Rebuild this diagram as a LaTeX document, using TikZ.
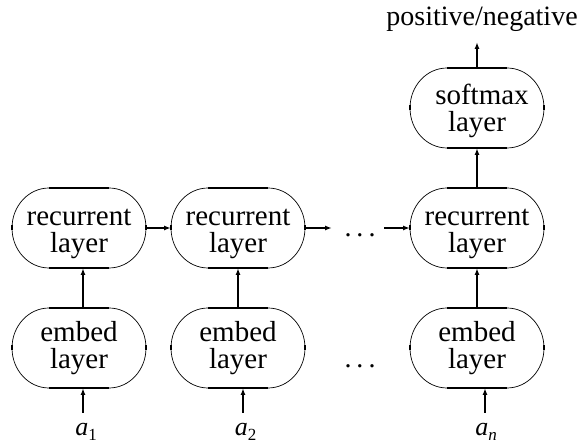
\documentclass[tikz,border=0pt]{standalone}
\usepackage{fontspec}
\setmainfont{Liberation Serif}
\usetikzlibrary{arrows.meta}
\tikzset{
  layerbox/.style={minimum width=134pt, minimum height=80pt, inner sep=0pt, outer sep=0pt,
    align=center, font=\fontsize{29}{27}\selectfont},
  flatedge/.style={line width=1.6pt},
  sideedge/.style={line width=0.7pt},
  conn/.style={line width=1.7pt, -{Latex[length=7pt,width=5pt]}},
  lbl/.style={anchor=base, inner sep=0pt, font=\fontsize{28}{28}\selectfont},
  dotlbl/.style={anchor=base, inner sep=0pt, font=\fontsize{28}{28}\selectfont},
}
\newcommand{\boxoutline}[1]{%
  \draw[sideedge] ([xshift=-30pt]#1.north) arc[start angle=90,end angle=270,x radius=37pt,y radius=40pt];
  \draw[sideedge] ([xshift=30pt]#1.south) arc[start angle=-90,end angle=90,x radius=37pt,y radius=40pt];
  \draw[flatedge] ([xshift=-30pt]#1.north) -- ([xshift=30pt]#1.north);
  \draw[flatedge] ([xshift=-30pt]#1.south) -- ([xshift=30pt]#1.south);
  \draw[flatedge] ([yshift=-2.5pt]#1.west) -- ([yshift=2.5pt]#1.west);
  \draw[flatedge] ([yshift=-2.5pt]#1.east) -- ([yshift=2.5pt]#1.east);
}
\newcommand{\twolines}[3]{\rule{0pt}{#1pt}#2\\#3\rule[-7pt]{0pt}{7pt}}
\newcommand{\invar}[1]{{\fontsize{26}{26}\selectfont\textit{a}}\raisebox{-5pt}{\fontsize{17}{17}\selectfont #1}}
\begin{document}
\begin{tikzpicture}[x=1pt,y=1pt]
\useasboundingbox (0,0) rectangle (586,446);
% boxes
\node[layerbox] (e1) at (79,98) {\twolines{22}{embed}{layer}};
\node[layerbox] (e2) at (238,98) {\twolines{22}{embed}{layer}};
\node[layerbox] (e3) at (477,98) {\twolines{22}{embed}{layer}};
\node[layerbox] (r1) at (79,218) {\twolines{30}{recurrent}{layer}};
\node[layerbox] (r2) at (238,218) {\twolines{30}{recurrent}{layer}};
\node[layerbox] (r3) at (477,218) {\twolines{30}{recurrent}{layer}};
\node[layerbox] (s3) at (477,338) {\twolines{27}{\hspace*{10pt}softmax}{layer}};
\boxoutline{e1}\boxoutline{e2}\boxoutline{e3}
\boxoutline{r1}\boxoutline{r2}\boxoutline{r3}
\boxoutline{s3}
% labels
\node[lbl] (out) at (482,420) {positive/negative};
\node[lbl] (a1) at (86,10) {\invar{1}};
\node[lbl] (a2) at (245.5,10) {\invar{2}};
\node[lbl] (an) at (486,10) {\invar{\textit{n}}};
\node[dotlbl] (d1) at (360,209) {.\hspace{5pt}.\hspace{5pt}.};
\node[dotlbl] (d2) at (360,78) {.\hspace{5pt}.\hspace{5pt}.};
\coordinate (h1) at (332,218);
\coordinate (h2) at (384,218);
% connectors
\draw[conn] ([xshift=-3pt,yshift=23pt]a1.base) -- ([xshift=-3pt]a1.base |- e1.south);
\draw[conn] ([xshift=-2.5pt,yshift=23pt]a2.base) -- ([xshift=-2.5pt]a2.base |- e2.south);
\draw[conn] ([xshift=-1pt,yshift=23pt]an.base) -- ([xshift=-1pt]an.base |- e3.south);
\draw[conn] ([xshift=4pt]e1.north) -- ([xshift=4pt]r1.south);
\draw[conn] (e2.north) -- (r2.south);
\draw[conn] (e3.north) -- (r3.south);
\draw[conn] (r3.north) -- (s3.south);
\draw[conn] (s3.north) -- ([yshift=-16pt]out.base -| s3.north);
\draw[conn] (r1.east) -- (r2.west);
\draw[conn] (r2.east) -- (h1);
\draw[conn] (h2) -- (r3.west);
\end{tikzpicture}
\end{document}
